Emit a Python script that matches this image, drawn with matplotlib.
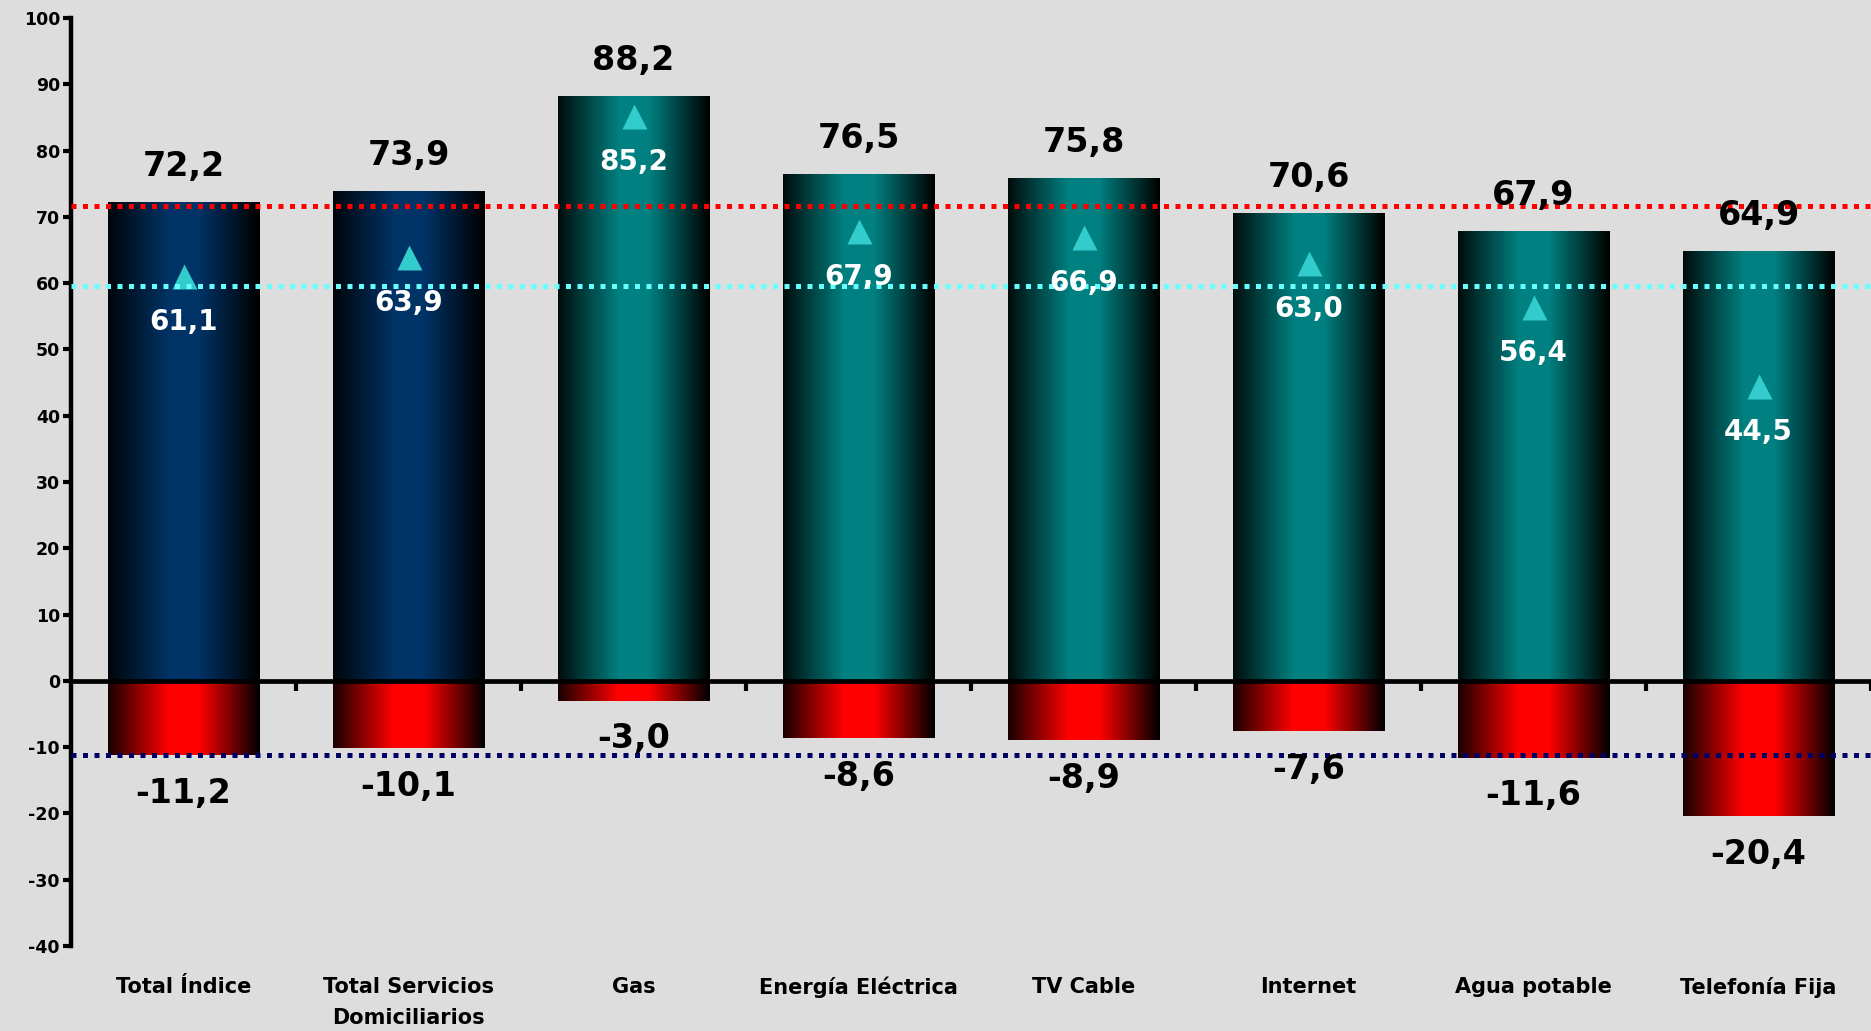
import numpy as np
import matplotlib
matplotlib.use('Agg')
import matplotlib.pyplot as plt
from matplotlib.colors import to_rgb

categories = ["Total Índice", "Total Servicios\nDomiciliarios", "Gas", "Energía Eléctrica",
              "TV Cable", "Internet", "Agua potable", "Telefonía Fija"]
positive = [72.2, 73.9, 88.2, 76.5, 75.8, 70.6, 67.9, 64.9]
negative = [-11.2, -10.1, -3.0, -8.6, -8.9, -7.6, -11.6, -20.4]
triangle = [61.1, 63.9, 85.2, 67.9, 66.9, 63.0, 56.4, 44.5]
ref_red = 71.6
ref_cyan = 59.5
ref_navy = -11.2
yticks = list(range(-40, 101, 10))
pos_colors = ['#003366', '#003366'] + ['#008080'] * 6
neg_color = '#FF0000'

plt.rcParams['font.family'] = ['DejaVu Sans']

def fmt(v):
    return f"{v:.1f}".replace('.', ',')

BG = '#DDDDDD'
fig = plt.figure(figsize=(18.71, 10.31), dpi=100, facecolor=BG)
ax = fig.add_axes([0.038, 0.0824, 0.962, 0.9002])
ax.set_facecolor(BG)
x = np.arange(len(categories)) + 0.5

bars_pos = ax.bar(x, positive, width=0.675, color='#000000', linewidth=0, zorder=2)
bars_neg = ax.bar(x, negative, width=0.675, color='#000000', linewidth=0, zorder=2)

t = np.linspace(0, 1, 300)
prof = np.interp(t, [0, 0.4, 0.6, 1.0], [0.1, 1.0, 1.0, 0.0])

def shade(bar, color):
    rgb = np.array(to_rgb(color))
    img = prof[None, :, None] * rgb[None, None, :]
    x0, y0 = bar.get_x(), bar.get_y()
    w, h = bar.get_width(), bar.get_height()
    im = ax.imshow(img, extent=[x0, x0 + w, min(y0, y0 + h), max(y0, y0 + h)],
                   aspect='auto', zorder=2.1, interpolation='nearest')
    im.set_clip_path(bar)

for b, c in zip(bars_pos, pos_colors):
    shade(b, c)
for b in bars_neg:
    shade(b, neg_color)

ax.set_xlim(0, len(categories))
ax.set_ylim(-40, 100)

# reference lines
ax.axhline(ref_red, color='#FF0000', lw=3.6, linestyle=(0, (1, 1.3)), dash_capstyle='butt', zorder=6)
ax.axhline(ref_cyan, color='#66FFFF', lw=3.6, linestyle=(0, (1, 1.3)), dash_capstyle='butt', zorder=6)
ax.axhline(ref_navy, color='#000066', lw=3.6, linestyle=(0, (1, 1.3)), dash_capstyle='butt', zorder=6)

# triangles
ax.plot(x, triangle, linestyle='none', marker='^', ms=18, color='#33CCCC', mec='none', zorder=5)

for xi, v in zip(x, positive):
    ax.annotate(fmt(v), (xi, v), xytext=(0, 28), textcoords='offset points', ha='center',
                va='center_baseline', fontsize=24, fontweight='bold', color='black', zorder=7)
for xi, v in zip(x, negative):
    ax.annotate(fmt(v), (xi, v), xytext=(0, -25), textcoords='offset points', ha='center',
                va='center_baseline', fontsize=24, fontweight='bold', color='black', zorder=7)
for xi, v in zip(x, triangle):
    ax.annotate(fmt(v), (xi, v), xytext=(0, -31), textcoords='offset points', ha='center',
                va='center_baseline', fontsize=20, fontweight='bold', color='white', zorder=7)

# axes styling
for s in ['top', 'right']:
    ax.spines[s].set_visible(False)
ax.spines['left'].set_linewidth(3.2)
ax.spines['bottom'].set_position(('data', 0))
ax.spines['bottom'].set_linewidth(3.4)
ax.spines['bottom'].set_zorder(8)
ax.set_yticks(yticks)
ax.set_yticklabels([str(v) for v in yticks], fontsize=12.5, fontweight='bold')
ax.tick_params(axis='y', direction='out', length=6, width=3, pad=2)
ax.set_xticks(np.arange(1, len(categories) + 1))
ax.set_xticklabels([])
ax.tick_params(axis='x', direction='out', length=7, width=3)

sec = ax.secondary_xaxis(0.0)
sec.set_xticks(x)
sec.set_xticklabels(categories, fontsize=15, fontweight='bold')
sec.tick_params(length=0, pad=22)
sec.spines['bottom'].set_visible(False)
for lbl in sec.get_xticklabels():
    lbl.set_linespacing(1.7)

fig.savefig('out.png', dpi=100, facecolor=BG)
